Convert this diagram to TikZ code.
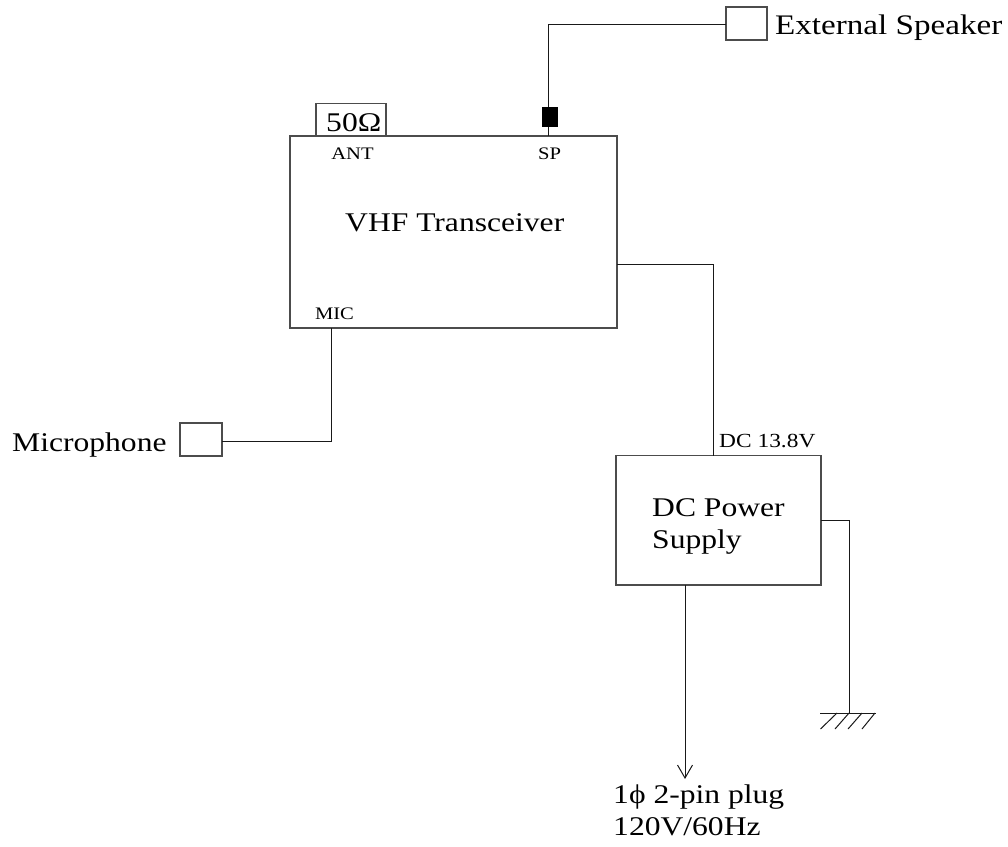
\documentclass[tikz,border=0pt]{standalone}
\usepackage{fontspec}
\setmainfont[FakeStretch=1.17]{Liberation Serif}
\tikzset{
  x=1pt,y=-1pt,
  wire/.style={draw=black!90,line width=1pt},
  blockbox/.style={draw=black!70,line width=1.4pt,minimum width=#1,inner sep=0pt,outer sep=0pt},
  big/.style={font=\fontsize{27pt}{32pt}\selectfont,inner sep=0pt,anchor=base west,align=left},
  small/.style={font=\fontsize{17.6pt}{20pt}\selectfont,inner sep=0pt,anchor=base},
}
\begin{document}
\begin{tikzpicture}
\useasboundingbox (0,0) rectangle (1008,846);
% blocks
\node[blockbox=327pt,minimum height=192pt] (trx) at (453.5,232) {};
\node[blockbox=70pt,minimum height=32.5pt] (ant) at (351,119.75) {};
\node[blockbox=41pt,minimum height=33pt] (spk) at (746.5,23.5) {};
\node[blockbox=42pt,minimum height=33pt] (mic) at (201,439.5) {};
\node[blockbox=205pt,minimum height=129.5pt] (dc) at (718.5,520.25) {};
% coordinates
\coordinate (spbot) at (548,136);
\coordinate (sptop) at (548,127);
\coordinate (spcorner) at (548,24);
\coordinate (miconbox) at (331,328);
\coordinate (miccorner) at (331,441);
\coordinate (trxout) at (617,264);
\coordinate (trxcorner) at (713,264);
\coordinate (dcin) at (713,455.5);
\coordinate (dcgnd) at (821,520.5);
\coordinate (gndcorner) at (849,520.5);
\coordinate (gnd) at (849,713);
\coordinate (gndl) at (820,713);
\coordinate (gndr) at (876,713);
\coordinate (dcout) at (685,585);
\coordinate (plug) at (685,778);
% connectors
\draw[wire] (spbot) -- (sptop);
\draw[wire] (sptop) -- (spcorner) -- (spk.west |- spcorner);
\draw[wire] (miconbox) -- (miccorner) -- (mic.east |- miccorner);
\draw[wire] (trxout) -- (trxcorner) -- (dcin);
\draw[wire] (dcgnd) -- (gndcorner) -- (gnd);
\draw[wire] (gndl) -- (gndr);
\draw[wire] (820.5,729) -- (837,713);
\draw[wire] (835,729) -- (849,713);
\draw[wire] (848,729) -- (862,713);
\draw[wire] (862,729) -- (875,713);
\draw[wire] (dcout) -- (plug);
\draw[wire] (677.5,765) -- (plug) -- (692.5,765);
\node[fill=black,minimum width=16pt,minimum height=20pt,inner sep=0pt,outer sep=0pt] (spjack) at (550,117) {};
% labels
\node[big] (l50) at (326,131) {50Ω};
\node[small] (lant) at (352.5,159) {ANT};
\node[small] (lsp) at (549.5,159) {SP};
\node[small] (lmic) at (334.5,319) {MIC};
\node[big] (lvhf) at (345,231) {VHF Transceiver};
\node[big,font=\fontsize{28.3pt}{32pt}\selectfont] (lspk) at (775,34) {External Speaker};
\node[big] (lmicro) at (12,451) {Microphone};
\node[font=\fontsize{20pt}{20pt}\selectfont,inner sep=0pt,anchor=base west] (ldc13) at (719,447) {DC 13.8V};
\node[big] (ldcp) at (652,516) {DC Power};
\node[big] (lsup) at (652,548) {Supply};
\node[big] (lplug) at (613,803) {1ϕ 2-pin plug};
\node[big] (lv) at (613,835) {120V/60Hz};
\end{tikzpicture}
\end{document}
